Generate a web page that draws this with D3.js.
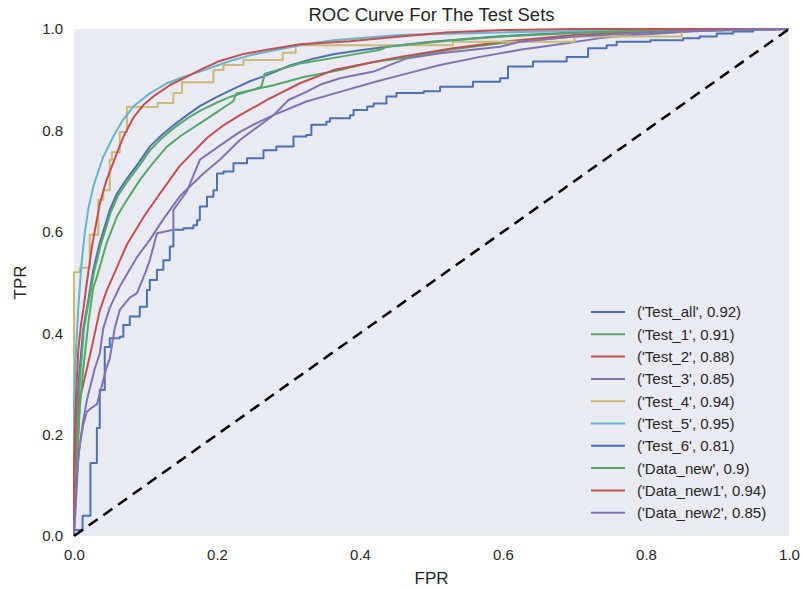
<!DOCTYPE html>
<html>
<head>
<meta charset="utf-8">
<script src="https://cdn.jsdelivr.net/npm/d3@7"></script>
<style>
    body { margin: 0; background: #ffffff; }
    #chart { width: 804px; height: 589px; }
    text { font-family: "Liberation Sans", Arial, sans-serif; fill: #262626; }
</style>
</head>
<body>
<div id="chart"></div>
<script>
// legend names / auc, in plotting order
var names = ['Test_all', 'Test_1', 'Test_2', 'Test_3', 'Test_4', 'Test_5', 'Test_6', 'Data_new', 'Data_new1', 'Data_new2'];
var aucs = ['0.92', '0.91', '0.88', '0.85', '0.94', '0.95', '0.81', '0.9', '0.94', '0.85'];
var colors = ['#4C72B0', '#55A868', '#C44E52', '#8172B2', '#CCB974', '#64B5CD', '#4C72B0', '#55A868', '#C44E52', '#8172B2'];
// stepped curves are drawn with step-after interpolation
var stepped = [false, false, false, false, true, false, true, false, false, false];
var ticks = [0, 0.2, 0.4, 0.6, 0.8, 1.0];

// [fpr, tpr]
var rocTestAll = [[0,0],[0,0.08],[0.002,0.18],[0.005,0.27],[0.008,0.33],[0.013,0.41],[0.02,0.465],[0.027,0.525],[0.036,0.578],[0.05,0.643],[0.06,0.675],[0.074,0.705],[0.09,0.735],[0.106,0.768],[0.122,0.79],[0.139,0.81],[0.16,0.832],[0.176,0.848],[0.2,0.866],[0.223,0.882],[0.246,0.897],[0.27,0.909],[0.302,0.928],[0.336,0.942],[0.363,0.95],[0.4,0.958],[0.437,0.965],[0.5,0.975],[0.6,0.986],[0.7,0.993],[0.8,0.998],[1,1]];
var rocTest1 = [[0,0],[0,0.06],[0.003,0.17],[0.006,0.26],[0.009,0.32],[0.014,0.41],[0.021,0.465],[0.028,0.52],[0.037,0.572],[0.051,0.637],[0.061,0.67],[0.075,0.7],[0.091,0.73],[0.107,0.762],[0.123,0.785],[0.14,0.805],[0.161,0.826],[0.178,0.84],[0.2,0.855],[0.218,0.866],[0.25,0.88],[0.279,0.889],[0.32,0.905],[0.372,0.919],[0.418,0.935],[0.456,0.942],[0.53,0.96],[0.596,0.972],[0.7,0.985],[0.8,0.995],[1,1]];
var rocTest2 = [[0,0],[0,0.07],[0.003,0.15],[0.006,0.2],[0.008,0.27],[0.013,0.3],[0.018,0.33],[0.025,0.373],[0.036,0.445],[0.046,0.485],[0.06,0.53],[0.074,0.575],[0.1,0.635],[0.12,0.675],[0.148,0.73],[0.186,0.785],[0.209,0.81],[0.232,0.83],[0.27,0.86],[0.316,0.893],[0.363,0.919],[0.409,0.932],[0.456,0.945],[0.53,0.962],[0.6,0.975],[0.7,0.988],[0.8,0.996],[1,1]];
var rocTest3 = [[0,0],[0.002,0.05],[0.004,0.1],[0.006,0.156],[0.012,0.22],[0.018,0.268],[0.029,0.33],[0.036,0.36],[0.041,0.41],[0.05,0.45],[0.064,0.492],[0.088,0.55],[0.106,0.584],[0.125,0.625],[0.148,0.67],[0.181,0.715],[0.204,0.742],[0.232,0.781],[0.279,0.83],[0.325,0.857],[0.372,0.876],[0.419,0.895],[0.465,0.912],[0.512,0.929],[0.568,0.945],[0.624,0.959],[0.689,0.972],[0.736,0.982],[0.782,0.988],[0.875,0.996],[1,1]];
var rocTest4 = [[0,0],[0,0.52],[0.008,0.529],[0.022,0.594],[0.034,0.663],[0.041,0.682],[0.05,0.742],[0.053,0.757],[0.064,0.797],[0.074,0.846],[0.117,0.854],[0.139,0.874],[0.151,0.895],[0.195,0.919],[0.209,0.929],[0.237,0.939],[0.292,0.953],[0.31,0.968],[0.53,0.975],[0.7,0.985],[0.85,1],[1,1]];
var rocTest5 = [[0,0],[0,0.27],[0.003,0.37],[0.006,0.45],[0.01,0.53],[0.015,0.597],[0.02,0.645],[0.027,0.689],[0.04,0.745],[0.055,0.788],[0.068,0.82],[0.083,0.847],[0.105,0.872],[0.13,0.893],[0.152,0.905],[0.176,0.916],[0.2,0.928],[0.223,0.939],[0.246,0.948],[0.27,0.955],[0.316,0.968],[0.363,0.978],[0.456,0.988],[0.512,0.99],[0.624,0.994],[0.75,0.997],[0.9,0.999],[1,1]];
var rocTest6 = [[0,0],[0,0.012],[0.012,0.04],[0.023,0.144],[0.032,0.213],[0.036,0.288],[0.043,0.373],[0.05,0.39],[0.064,0.393],[0.069,0.416],[0.078,0.433],[0.092,0.452],[0.102,0.485],[0.106,0.505],[0.116,0.525],[0.125,0.544],[0.134,0.571],[0.139,0.604],[0.153,0.607],[0.167,0.613],[0.172,0.623],[0.176,0.65],[0.186,0.669],[0.195,0.682],[0.2,0.715],[0.209,0.719],[0.223,0.735],[0.242,0.745],[0.265,0.761],[0.283,0.768],[0.307,0.788],[0.325,0.791],[0.332,0.811],[0.353,0.817],[0.358,0.824],[0.386,0.83],[0.391,0.84],[0.41,0.847],[0.419,0.853],[0.437,0.867],[0.451,0.874],[0.489,0.877],[0.512,0.886],[0.558,0.896],[0.596,0.903],[0.607,0.926],[0.642,0.936],[0.689,0.945],[0.719,0.962],[0.745,0.968],[0.759,0.975],[0.806,0.978],[0.852,0.982],[0.875,0.985],[0.899,0.991],[0.922,0.995],[0.95,1],[1,1]];
var rocDataNew = [[0,0],[0,0.05],[0.004,0.15],[0.008,0.25],[0.013,0.33],[0.02,0.42],[0.027,0.49],[0.032,0.511],[0.045,0.575],[0.06,0.63],[0.075,0.665],[0.092,0.702],[0.11,0.735],[0.13,0.768],[0.15,0.79],[0.176,0.814],[0.2,0.836],[0.223,0.858],[0.227,0.873],[0.251,0.88],[0.262,0.886],[0.267,0.912],[0.316,0.932],[0.372,0.945],[0.428,0.959],[0.437,0.965],[0.53,0.978],[0.6,0.985],[0.7,0.992],[0.8,0.997],[1,1]];
var rocDataNew1 = [[0,0],[0,0.14],[0.003,0.28],[0.006,0.367],[0.01,0.42],[0.013,0.446],[0.018,0.5],[0.025,0.57],[0.036,0.655],[0.045,0.7],[0.06,0.755],[0.07,0.79],[0.083,0.825],[0.097,0.85],[0.111,0.867],[0.135,0.89],[0.158,0.906],[0.18,0.922],[0.204,0.937],[0.235,0.95],[0.27,0.959],[0.316,0.97],[0.386,0.976],[0.456,0.985],[0.52,0.993],[0.6,0.998],[0.7,1],[1,1]];
var rocDataNew2 = [[0,0],[0.002,0.06],[0.004,0.12],[0.008,0.18],[0.013,0.22],[0.018,0.245],[0.024,0.252],[0.032,0.26],[0.036,0.28],[0.045,0.33],[0.05,0.35],[0.057,0.41],[0.064,0.446],[0.078,0.47],[0.088,0.479],[0.1,0.52],[0.106,0.544],[0.116,0.597],[0.139,0.604],[0.139,0.643],[0.158,0.68],[0.176,0.742],[0.209,0.775],[0.232,0.797],[0.256,0.815],[0.279,0.83],[0.3,0.86],[0.325,0.876],[0.344,0.89],[0.372,0.903],[0.419,0.916],[0.465,0.942],[0.512,0.952],[0.596,0.965],[0.624,0.975],[0.7,0.985],[0.8,0.993],[0.9,0.998],[1,1]];

var curves = [rocTestAll, rocTest1, rocTest2, rocTest3, rocTest4, rocTest5, rocTest6, rocDataNew, rocDataNew1, rocDataNew2];

drawRoc('chart');

function drawRoc(divName) {
    var svgwidth = 804, svgheight = 589;
    var _margin = {top: 29, left: 74, right: 15, bottom: 53};
    var w = svgwidth - _margin.left - _margin.right;
    var h = svgheight - _margin.top - _margin.bottom;

    var _svg = d3.select('#' + divName).append('svg')
        .attr('width', svgwidth)
        .attr('height', svgheight);

    var x = d3.scaleLinear().domain([0, 1]).range([0, w]);
    var y = d3.scaleLinear().domain([0, 1]).range([h, 0]);

    var g = _svg.append('g')
        .attr('transform', 'translate(' + _margin.left + ',' + _margin.top + ')');

    // seaborn-ish background
    g.append('rect')
        .attr('width', w)
        .attr('height', h)
        .attr('fill', '#EAEAF2');

    // axes: labels only, no domain / tick lines
    var xAxis = g.append('g')
        .attr('transform', 'translate(0,' + h + ')')
        .call(d3.axisBottom(x).tickValues(ticks).tickSize(0).tickPadding(13).tickFormat(d3.format('.1f')));
    var yAxis = g.append('g')
        .call(d3.axisLeft(y).tickValues(ticks).tickSize(0).tickPadding(11).tickFormat(d3.format('.1f')));
    [xAxis, yAxis].forEach(function (a) {
        a.select('.domain').remove();
        a.selectAll('text')
            .style('font-size', '15px')
            .attr('fill', '#262626')
            .style('font-family', '"Liberation Sans", Arial, sans-serif');
    });

    // clip curves to plot area
    g.append('clipPath').attr('id', 'clip')
        .append('rect').attr('x', -2).attr('y', -2).attr('width', w + 4).attr('height', h + 4);

    var lineGen = d3.line()
        .x(function (d) { return x(d[0]); })
        .y(function (d) { return y(d[1]); });

    var lines = g.append('g').attr('clip-path', 'url(#clip)');
    curves.forEach(function (c, i) {
        lineGen.curve(stepped[i] ? d3.curveStepAfter : d3.curveLinear);
        lines.append('path')
            .attr('d', lineGen(c))
            .attr('fill', 'none')
            .attr('stroke', colors[i])
            .attr('stroke-width', 2)
            .attr('stroke-linejoin', 'round');
    });

    // chance diagonal
    lines.append('path')
        .attr('d', d3.line().x(function (d) { return x(d); }).y(function (d) { return y(d); })([0, 1]))
        .attr('fill', 'none')
        .attr('stroke', '#000000')
        .attr('stroke-width', 2.5)
        .attr('stroke-dasharray', '11,7');

    // title and axis labels
    _svg.append('text')
        .attr('x', _margin.left + w / 2)
        .attr('y', 21)
        .attr('text-anchor', 'middle')
        .style('font-size', '18.5px')
        .text('ROC Curve For The Test Sets');
    _svg.append('text')
        .attr('x', _margin.left + w / 2)
        .attr('y', 584)
        .attr('text-anchor', 'middle')
        .style('font-size', '17px')
        .text('FPR');
    _svg.append('text')
        .attr('transform', 'translate(26,' + (_margin.top + h / 2) + ') rotate(-90)')
        .attr('text-anchor', 'middle')
        .style('font-size', '17px')
        .text('TPR');

    // legend
    var leg = _svg.append('g').attr('transform', 'translate(591,312)');
    var rows = leg.selectAll('g').data(names).enter().append('g')
        .attr('transform', function (d, i) { return 'translate(0,' + (i * 22.3) + ')'; });
    rows.append('line')
        .attr('x1', 0).attr('x2', 34)
        .attr('stroke', function (d, i) { return colors[i]; })
        .attr('stroke-width', 2);
    rows.append('text')
        .attr('x', 46)
        .attr('dy', '0.36em')
        .style('font-size', '15px')
        .text(function (d, i) { return "('" + d + "', " + aucs[i] + ')'; });
}
</script>
</body>
</html>
